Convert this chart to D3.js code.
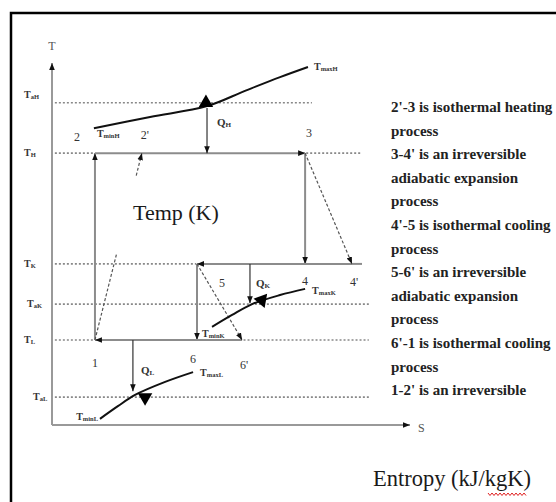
<!DOCTYPE html>
<html>
<head>
<meta charset="utf-8">
<script src="https://cdn.jsdelivr.net/npm/d3@7"></script>
<style>
  body { margin: 0; background: #fff; }
  svg text { font-family: "Liberation Serif", "Times New Roman", "DejaVu Serif", serif; }
</style>
</head>
<body>
<div id="chart"></div>
<script>
// temperature levels (arbitrary units, 0 at the S axis)
const levelSubs = ["aL", "L", "aK", "K", "H", "aH"];
const levelT = [7.7, 23.5, 33.4, 44.5, 75.1, 89.0];
// dotted guide spans along s for each level
const guideSpans = [
  [[0.8, 88.5]],
  [[0.8, 11.8], [53.5, 88.5]],
  [[0.8, 88.5]],
  [[0.8, 40.3]],
  [[0.8, 11.8], [71.0, 86.6]],
  [[0.8, 72.6]]
];

// state points of the cycle
const pointNames = ["1", "2", "2'", "3", "4", "4'", "5", "6", "6'"];
const pointS = [12.0, 12.0, 25.1, 70.7, 70.7, 83.8, 40.5, 40.5, 53.1];
const pointT = [23.5, 75.1, 75.1, 75.1, 44.5, 44.5, 44.5, 23.5, 23.5];

// processes: solid (reversible) and dashed (irreversible)
const solidProcs = [["1", "2"], ["2", "3"], ["3", "4"], ["4'", "5"], ["5", "6"], ["6'", "1"]];
const dashedProcs = [["1", "2'"], ["3", "4'"], ["5", "6'"]];

// external streams
const hStreamS = [11.7, 27.4, 43.3, 53.9, 63.7, 71.5];
const hStreamT = [82.0, 85.1, 88.1, 92.3, 96.1, 98.9];
const kStreamS = [44.7, 50.3, 55.9, 63.7, 70.7];
const kStreamT = [27.1, 30.4, 33.4, 35.9, 37.6];
const lStreamS = [13.4, 18.4, 23.2, 31.6, 39.4];
const lStreamT = [1.7, 5.2, 8.3, 11.9, 14.6];

// heat flows: s position, from T, to T
const heatNames = ["H", "K", "L"];
const heatS = [43.3, 55.3, 22.6];
const heatFrom = [87.6, 44.5, 23.5];
const heatTo = [75.1, 33.6, 9.3];

const notes = [
  "2'-3 is isothermal heating", "process",
  "3-4' is an irreversible", "adiabatic expansion", "process",
  "4'-5 is isothermal cooling", "process",
  "5-6' is an irreversible", "adiabatic expansion", "process",
  "6'-1 is isothermal cooling", "process",
  "1-2' is an irreversible"
];

const width = 556, height = 502;
const serif = "'Liberation Serif', 'Times New Roman', serif";
const svg = d3.select("#chart").append("svg")
  .attr("width", width).attr("height", height)
  .attr("font-family", serif);

const x = d3.scaleLinear().domain([0, 100]).range([52, 410]);
const y = d3.scaleLinear().domain([0, 100]).range([425, 63]);

const defs = svg.append("defs");
defs.append("marker")
  .attr("id", "arr")
  .attr("viewBox", "0 0 10 10")
  .attr("refX", 10).attr("refY", 5)
  .attr("markerUnits", "userSpaceOnUse")
  .attr("markerWidth", 7).attr("markerHeight", 7)
  .attr("orient", "auto")
  .append("path").attr("d", "M0,1 L10,5 L0,9 Z").attr("fill", "#111");

// outer frame
svg.append("path")
  .attr("d", `M11,${height} L11,13 L${width},13`)
  .attr("fill", "none").attr("stroke", "#000").attr("stroke-width", 2.5);

// axes
svg.append("line")
  .attr("x1", x(0)).attr("y1", y(0)).attr("x2", x(0)).attr("y2", y(100))
  .attr("stroke", "#999").attr("stroke-width", 2).attr("marker-end", "url(#arr)");
svg.append("line")
  .attr("x1", x(0)).attr("y1", y(0)).attr("x2", x(100)).attr("y2", y(0))
  .attr("stroke", "#999").attr("stroke-width", 2).attr("marker-end", "url(#arr)");
svg.append("text").attr("x", x(0)).attr("y", 50)
  .attr("text-anchor", "middle").attr("font-size", 12).attr("fill", "#555").text("T");
svg.append("text").attr("x", x(100) + 8).attr("y", y(0) + 7)
  .attr("font-size", 12).attr("fill", "#555").text("S");

// dotted guides and level labels
levelT.forEach((t, i) => {
  guideSpans[i].forEach(sp => {
    svg.append("line")
      .attr("x1", x(sp[0])).attr("x2", x(sp[1]))
      .attr("y1", y(t)).attr("y2", y(t))
      .attr("stroke", "#888").attr("stroke-width", 1.6)
      .attr("stroke-dasharray", "2,2");
  });
  const lab = svg.append("text")
    .attr("x", i === 0 ? 33 : (i === 2 ? 27 : 24))
    .attr("y", y(t) + (i === 5 ? -5 : 3))
    .attr("font-size", 10).attr("font-weight", "bold").attr("fill", "#333");
  lab.append("tspan").text("T");
  lab.append("tspan").attr("font-size", 6.5).attr("dy", 1).text(levelSubs[i]);
});

const P = {};
pointNames.forEach((n, i) => { P[n] = [x(pointS[i]), y(pointT[i])]; });

// solid processes
solidProcs.forEach(([a, b]) => {
  svg.append("line")
    .attr("x1", P[a][0]).attr("y1", P[a][1])
    .attr("x2", P[b][0]).attr("y2", P[b][1])
    .attr("stroke", "#8c8c8c").attr("stroke-width", 2)
    .attr("marker-end", "url(#arr)");
});
// small overhang of the TK line past 4'
svg.append("line")
  .attr("x1", P["4'"][0]).attr("x2", x(86.6))
  .attr("y1", P["4'"][1]).attr("y2", P["4'"][1])
  .attr("stroke", "#8c8c8c").attr("stroke-width", 2);

// dashed irreversible processes (1-2' drawn with a gap)
dashedProcs.forEach(([a, b], i) => {
  const segs = i === 0 ? [[0, 0.46], [0.88, 1]] : [[0, 1]];
  segs.forEach(([f0, f1]) => {
    const ax = P[a][0] + (P[b][0] - P[a][0]) * f0, ay = P[a][1] + (P[b][1] - P[a][1]) * f0;
    const bx = P[a][0] + (P[b][0] - P[a][0]) * f1, by = P[a][1] + (P[b][1] - P[a][1]) * f1;
    const l = svg.append("line")
      .attr("x1", ax).attr("y1", ay).attr("x2", bx).attr("y2", by)
      .attr("stroke", "#555").attr("stroke-width", 1.2)
      .attr("stroke-dasharray", "3,2");
    if (f1 === 1) l.attr("marker-end", "url(#arr)");
  });
});

// point labels
const pointOffsets = {
  "1": [0, 27], "2": [-18, -12], "2'": [3, -14], "3": [4, -16],
  "4": [0, 21], "4'": [2, 22], "5": [25, 23], "6": [-4, 23], "6'": [2, 29]
};
pointNames.forEach(n => {
  svg.append("text")
    .attr("x", P[n][0] + pointOffsets[n][0])
    .attr("y", P[n][1] + pointOffsets[n][1])
    .attr("text-anchor", "middle").attr("font-size", 12).attr("fill", "#333")
    .text(n);
});

// streams
const streamLine = d3.line().x(d => x(d[0])).y(d => y(d[1])).curve(d3.curveCatmullRom);
const streams = [
  { s: hStreamS, t: hStreamT },
  { s: kStreamS, t: kStreamT },
  { s: lStreamS, t: lStreamT }
];
streams.forEach(st => {
  svg.append("path")
    .attr("d", streamLine(st.s.map((v, i) => [v, st.t[i]])))
    .attr("fill", "none").attr("stroke", "#111").attr("stroke-width", 2);
});

// heat flow arrows
heatNames.forEach((n, i) => {
  svg.append("line")
    .attr("x1", x(heatS[i])).attr("x2", x(heatS[i]))
    .attr("y1", y(heatFrom[i])).attr("y2", y(heatTo[i]))
    .attr("stroke", "#333").attr("stroke-width", 1.2)
    .attr("marker-end", "url(#arr)");
});

// big triangles on the streams
const triS = [43.0, 58.6, 26.0];
const triT = [89.0, 34.5, 7.6];
const triRot = [0, 160, 180];
triS.forEach((s, i) => {
  svg.append("path")
    .attr("d", d3.symbol(d3.symbolTriangle, 90)())
    .attr("transform", `translate(${x(s)},${y(triT[i])}) rotate(${triRot[i]})`)
    .attr("fill", "#000");
});

// subscripted labels
function subLabel(px, py, main, sub, size, anchor) {
  const t = svg.append("text").attr("x", px).attr("y", py)
    .attr("font-size", size).attr("font-weight", "bold").attr("fill", "#333")
    .attr("text-anchor", anchor || "start");
  t.append("tspan").text(main);
  t.append("tspan").attr("font-size", size * 0.65).attr("dy", 1).text(sub);
  return t;
}
// heat labels
subLabel(x(heatS[0]) + 10, y(heatTo[0]) - 27, "Q", "H", 11);
subLabel(x(heatS[1]) + 6, P["5"][1] + 23, "Q", "K", 11);
subLabel(x(heatS[2]) + 8, P["1"][1] + 34, "Q", "L", 11);
// stream end labels
subLabel(x(hStreamS[0]) + 3, y(hStreamT[0]) + 9, "T", "minH", 10);
subLabel(x(hStreamS[5]) + 6, y(hStreamT[5]) + 3, "T", "maxH", 10);
subLabel(x(kStreamS[0]) - 10, y(kStreamT[0]) + 10, "T", "minK", 10);
subLabel(x(kStreamS[4]) + 7, y(kStreamT[4]) + 5, "T", "maxK", 10);
subLabel(x(lStreamS[0]) - 2, y(lStreamT[0]) + 1, "T", "minL", 10, "end");
subLabel(x(lStreamS[4]) + 7, y(lStreamT[4]) + 4, "T", "maxL", 10);

// axis titles
svg.append("text").attr("x", 133).attr("y", 220)
  .attr("font-size", 22).attr("fill", "#1a1a1a").text("Temp (K)");
svg.append("text").attr("x", 373).attr("y", 486)
  .attr("font-size", 22.5).attr("fill", "#1a1a1a").text("Entropy (kJ/kgK)");

// red spell-check squiggle under "kgK"
const sq = d3.range(0, 20).map(i => [488 + i * 2, 494 + (i % 2 ? 1.5 : -1)]);
svg.append("path").attr("d", d3.line()(sq))
  .attr("fill", "none").attr("stroke", "#e02020").attr("stroke-width", 1);

// process notes
svg.append("g").selectAll("text").data(notes).join("text")
  .attr("x", 391)
  .attr("y", (d, i) => 112 + i * 23.6)
  .attr("font-size", 15).attr("font-weight", "bold").attr("fill", "#222")
  .text(d => d);
</script>
</body>
</html>
